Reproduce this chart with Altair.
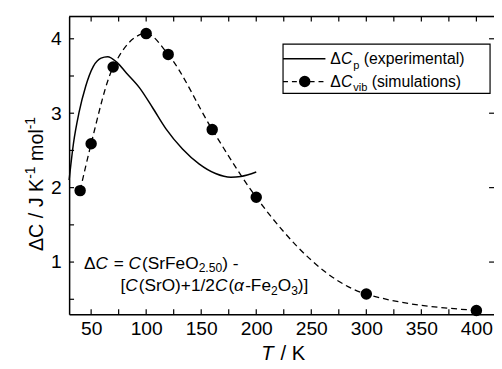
import altair as alt
import pandas as pd

# ---- data ----
sim_T = [40, 50, 70, 100, 120, 160, 200, 300, 400]
sim_C = [1.96, 2.59, 3.62, 4.07, 3.79, 2.78, 1.87, 0.57, 0.35]

exp_T = [30, 34, 39, 45, 52, 59, 65, 73, 82, 94, 106, 118, 133, 148, 163, 177, 186, 200]
exp_C = [2.1, 2.6, 3.01, 3.36, 3.63, 3.74, 3.76, 3.69, 3.54, 3.34, 3.07, 2.79, 2.52, 2.32,
         2.19, 2.14, 2.15, 2.21]

x_label_values = [50, 100, 150, 200, 250, 300, 350, 400]
x_tick_values = [50, 75, 100, 125, 150, 175, 200, 225, 250, 275, 300, 325, 350, 375, 400]
y_label_values = [1, 2, 3, 4]
y_tick_values = [0.5, 1.0, 1.5, 2.0, 2.5, 3.0, 3.5, 4.0]
y_right_tick_values = [1, 2, 3, 4]

FONT = "Liberation Sans"
W, H = 431, 302
TICK = 5

xs = alt.Scale(domain=[30, 416], nice=False, zero=False)
ys = alt.Scale(domain=[0.3, 4.3], nice=False, zero=False)

sim = pd.DataFrame({"T": sim_T, "C": sim_C})
exp = pd.DataFrame({"T": exp_T, "C": exp_C})
one = pd.DataFrame({"a": [0]})

xaxis = alt.Axis(values=x_label_values, ticks=False, tickSize=0, grid=False,
                 domainColor="black", domainWidth=1.5, labelFont=FONT, labelFontSize=19.5,
                 labelColor="black", labelPadding=6, labelFlush=False, labelOverlap=False,
                 title=None)
yaxis = alt.Axis(values=y_label_values, ticks=False, tickSize=0, grid=False,
                 domainColor="black", domainWidth=1.5, labelFont=FONT, labelFontSize=19.5,
                 labelColor="black", labelPadding=8, labelFlush=False, labelOverlap=False,
                 title=None)

exp_line = alt.Chart(exp).mark_line(color="black", strokeWidth=1.5, interpolate="monotone").encode(
    x=alt.X("T:Q", scale=xs, axis=xaxis),
    y=alt.Y("C:Q", scale=ys, axis=yaxis),
)
sim_line = alt.Chart(sim).mark_line(color="black", strokeWidth=1.3, strokeDash=[6, 4],
                                    interpolate="monotone").encode(
    x=alt.X("T:Q", scale=xs, axis=xaxis),
    y=alt.Y("C:Q", scale=ys, axis=yaxis),
)
sim_pts = alt.Chart(sim).mark_circle(color="black", size=135, opacity=1).encode(
    x=alt.X("T:Q", scale=xs, axis=xaxis),
    y=alt.Y("C:Q", scale=ys, axis=yaxis),
)

# inward ticks
xt = pd.DataFrame({"T": x_tick_values})
yt = pd.DataFrame({"C": y_tick_values})
yrt = pd.DataFrame({"C": y_right_tick_values})
bottom_ticks = alt.Chart(xt).mark_rule(color="black", strokeWidth=1.2).encode(
    x=alt.X("T:Q", scale=xs, axis=xaxis), y=alt.value(H), y2=alt.value(H - TICK))
top_ticks = alt.Chart(xt).mark_rule(color="black", strokeWidth=1.2).encode(
    x=alt.X("T:Q", scale=xs, axis=xaxis), y=alt.value(0), y2=alt.value(TICK))
left_ticks = alt.Chart(yt).mark_rule(color="black", strokeWidth=1.2).encode(
    y=alt.Y("C:Q", scale=ys, axis=yaxis), x=alt.value(0), x2=alt.value(TICK))
right_ticks = alt.Chart(yrt).mark_rule(color="black", strokeWidth=1.2).encode(
    y=alt.Y("C:Q", scale=ys, axis=yaxis), x=alt.value(W), x2=alt.value(W - TICK))
top_line = alt.Chart(one).mark_rule(color="black", strokeWidth=1.5).encode(
    x=alt.value(0), x2=alt.value(W), y=alt.value(0))

# ---- rich text helpers (Arial / Liberation Sans advance widths) ----
WID = {" ": .278, "(": .333, ")": .333, "[": .278, "]": .278, "+": .584, "-": .333,
       "=": .584, "/": .278, ".": .278, "A": .667, "C": .722, "F": .611, "J": .5,
       "K": .667, "O": .778, "S": .667, "T": .611, "a": .556, "b": .556, "e": .556,
       "i": .222, "l": .222, "m": .833, "n": .556, "o": .556, "p": .556, "r": .333,
       "s": .5, "t": .278, "u": .556, "v": .5, "x": .5, "Δ": .668, "α": .578}


def tw(s, fs):
    return sum(WID.get(ch, 0.556) for ch in s) * fs


def rich(runs, x0, y0, fs, angle=None, sub_off=0.28):
    layers = []
    pos = 0.0
    for txt, st in runs:
        if st == "sub":
            f, off, style = fs * 0.7, fs * sub_off, "normal"
        elif st == "sup":
            f, off, style = fs * 0.7, -fs * 0.38, "normal"
        elif st == "i":
            f, off, style = fs, 0.0, "italic"
        else:
            f, off, style = fs, 0.0, "normal"
        lead = len(txt) - len(txt.lstrip(" "))
        shown = txt.strip(" ")
        if shown:
            start = pos + tw(" " * lead, f)
            if angle is None:
                px, py = x0 + start, y0 + off
                kw = {}
            else:
                px, py = x0 + off, y0 - start
                kw = {"angle": angle}
            layers.append(
                alt.Chart(one).mark_text(text=shown, font=FONT, fontSize=f, fontStyle=style,
                                         align="left", baseline="alphabetic", color="black",
                                         **kw)
                .encode(x=alt.value(px), y=alt.value(py)))
        pos += tw(txt, f)
        if st == "i":
            pos += 0.06 * f  # italic overhang
    return layers


texts = []
# axis titles
texts += rich([("T", "i"), (" / K", "n")], 195, 348, 20.5)
texts += rich([("ΔC / J K", "n"), ("-1", "sup"), (" mol", "n"), ("-1", "sup")],
              -27, 238, 20, angle=270)
# annotation
texts += rich([("Δ", "n"), ("C", "i"), (" = ", "n"), ("C", "i"), ("(SrFeO", "n"),
               ("2.50", "sub"), (") -", "n")], 15, 256, 17.5, sub_off=0.2)
texts += rich([("[", "n"), ("C", "i"), ("(SrO)+1/2", "n"), ("C", "i"), ("(", "n"),
               ("α", "i"), ("-Fe", "n"), ("2", "sub"), ("O", "n"), ("3", "sub"),
               (")]", "n")], 52, 278, 17.5)

# legend
LX0, LX1, LY0, LY1 = 217, 427, 28, 78
legend_box = alt.Chart(one).mark_rect(fill="white", stroke="black", strokeWidth=1.2).encode(
    x=alt.value(LX0), x2=alt.value(LX1), y=alt.value(LY0), y2=alt.value(LY1))
leg_solid = alt.Chart(one).mark_rule(color="black", strokeWidth=1.5).encode(
    x=alt.value(LX0), x2=alt.value(260), y=alt.value(43))
leg_dash = alt.Chart(one).mark_rule(color="black", strokeWidth=1.3, strokeDash=[5, 4]).encode(
    x=alt.value(LX0), x2=alt.value(260), y=alt.value(66))
leg_pt = alt.Chart(one).mark_circle(color="black", size=135, opacity=1).encode(
    x=alt.value(239), y=alt.value(66))
texts += rich([("Δ", "n"), ("C", "i"), ("p", "sub"), (" (experimental)", "n")], 265, 48.5, 16)
texts += rich([("Δ", "n"), ("C", "i"), ("vib", "sub"), (" (simulations)", "n")], 265, 71.5, 16)

chart = alt.layer(
    exp_line, sim_line, sim_pts,
    bottom_ticks, top_ticks, left_ticks, right_ticks, top_line,
    legend_box, leg_solid, leg_dash, leg_pt,
    *texts,
).properties(
    width=W, height=H,
    autosize=alt.AutoSizeParams(type="none"),
    padding={"left": 62, "top": 6, "right": 0, "bottom": 50},
).configure_view(stroke=None).configure(background="white")

chart.save("out.html", embed_options={"renderer": "svg", "actions": False})
